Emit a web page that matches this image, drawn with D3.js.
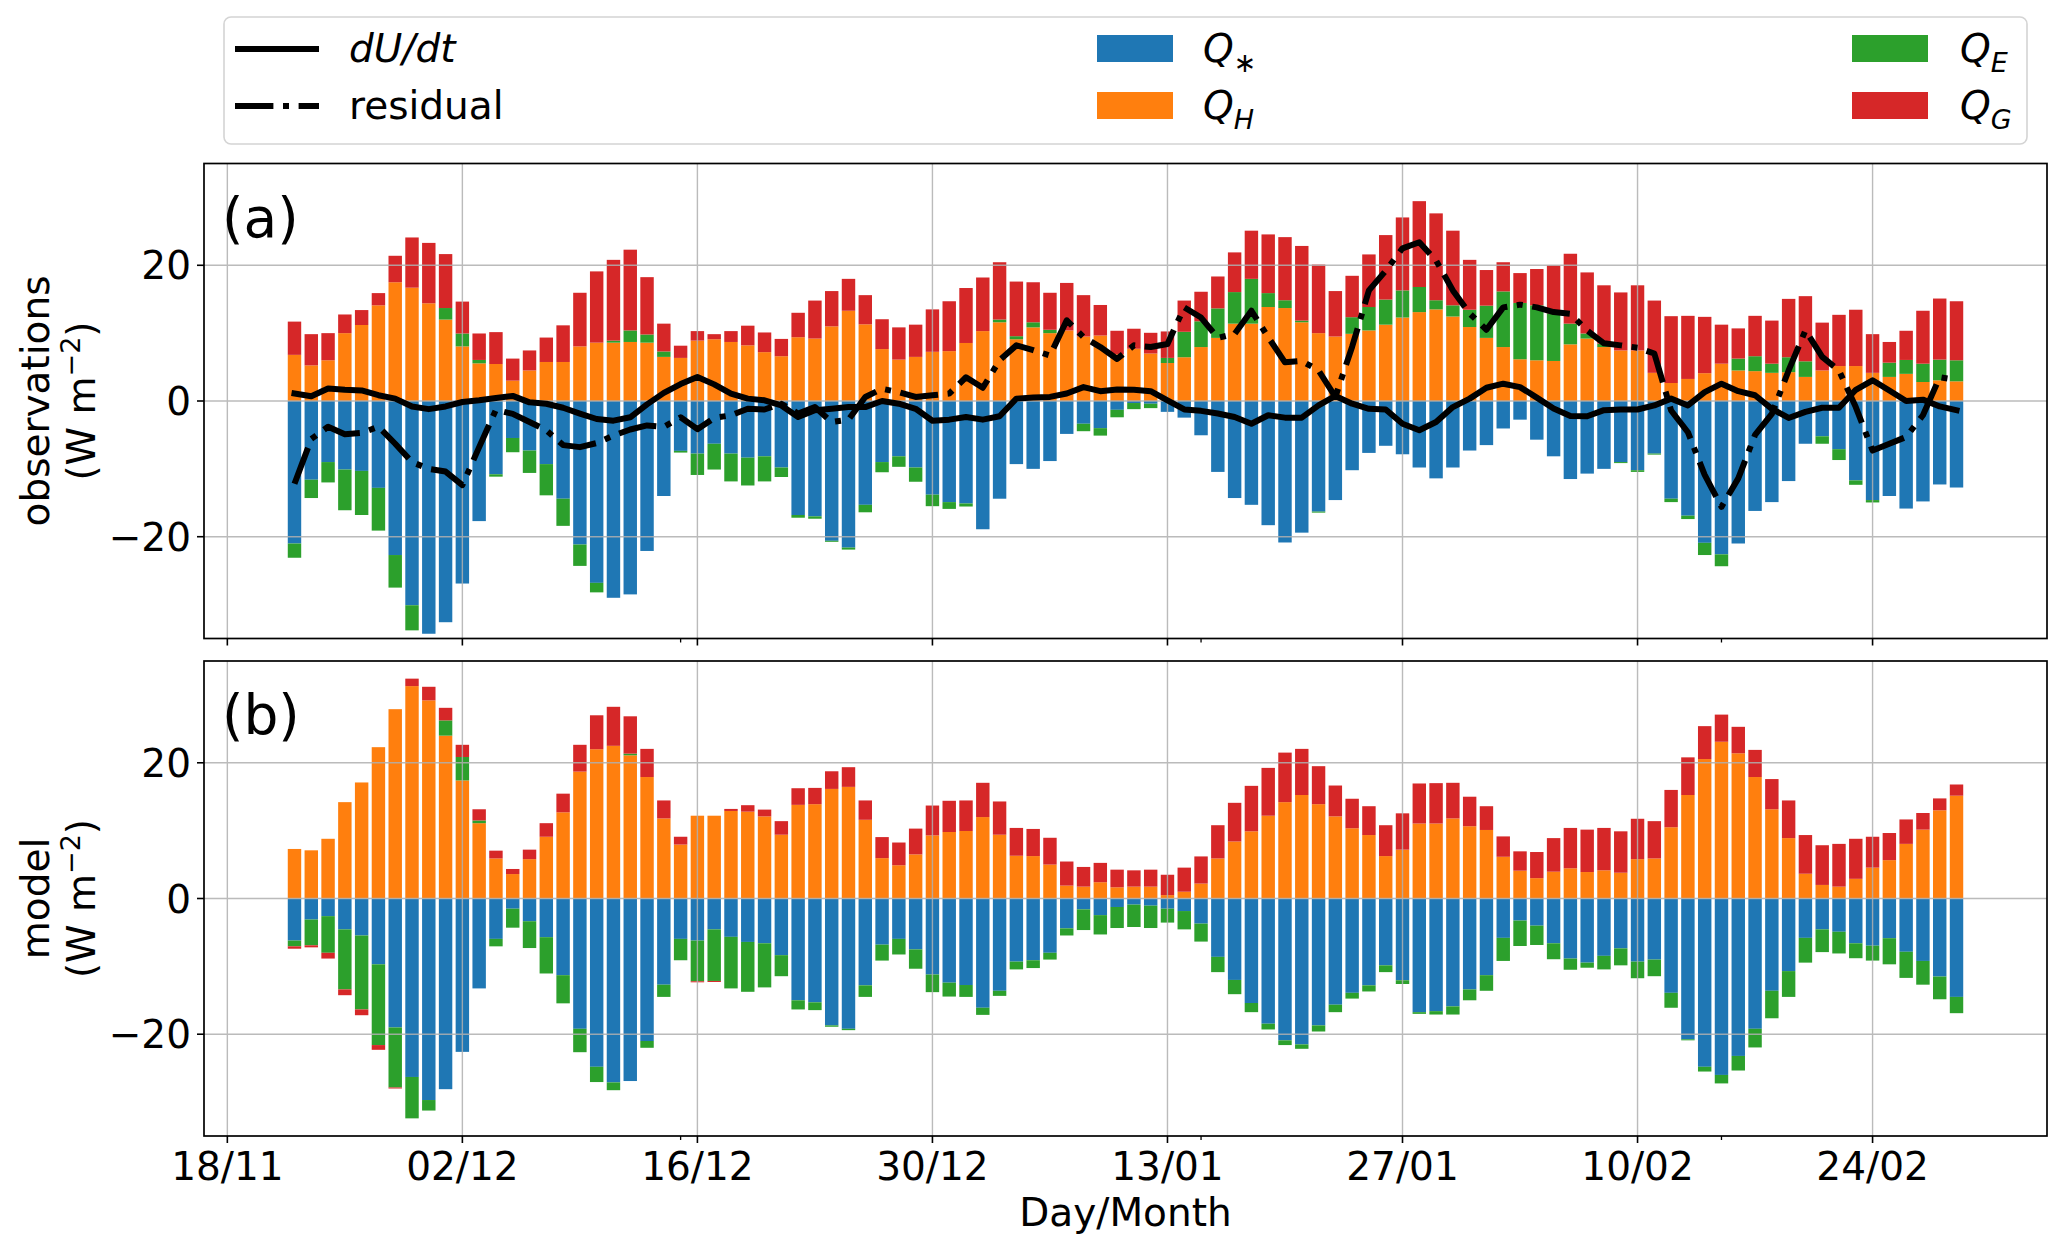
<!DOCTYPE html>
<html><head><meta charset="utf-8">
<script src="https://cdn.jsdelivr.net/npm/d3@7"></script>
<style>
body{margin:0;background:#fff}
svg{display:block}
text{font-family:"DejaVu Sans",sans-serif;fill:#000}
</style>
</head><body>
<svg id="chart" width="2067" height="1250"></svg>
<script>
// ---------------- data ----------------
const firstDay = "22/11", lastDay = "01/03";
const tickLabels = ["18/11","02/12","16/12","30/12","13/01","27/01","10/02","24/02"];
const minorTickLabels = ["15/12","15/01","15/02"];
const yTicks = [-20, 0, 20];
const seriesNames = ["Qstar","QH","QE","QG"];

// (a) observations
const obsQstar = [-21.0,-11.6,-9.0,-10.1,-10.3,-12.8,-22.7,-30.1,-34.3,-32.6,
 -26.9,-17.7,-10.8,-5.45,-7.3,-9.3,-14.4,-21.15,-26.8,-29.0,
 -28.5,-22.1,-14.0,-7.35,-7.75,-6.3,-7.75,-8.35,-8.15,-9.8,
 -16.8,-17.0,-20.6,-21.6,-15.3,-9.0,-8.15,-9.8,-13.8,-14.9,
 -15.1,-18.9,-14.4,-9.3,-10.0,-8.85,-4.85,-3.35,-4.0,-1.3,
 -0.3,-0.4,-1.6,-2.45,-5.05,-10.45,-14.3,-15.3,-18.3,-20.85,
 -19.4,-16.3,-14.6,-10.2,-7.65,-6.6,-7.85,-9.8,-11.4,-9.8,
 -7.3,-6.5,-4.05,-2.75,-5.7,-8.15,-11.5,-10.7,-10.0,-9.0,
 -10.2,-7.75,-14.4,-16.9,-20.9,-22.6,-21.0,-16.2,-14.9,-11.8,
 -6.3,-5.2,-7.1,-11.7,-14.6,-14.0,-15.85,-14.8,-12.3,-12.75];
const obsQH = [6.8,5.25,6.0,10.0,11.2,14.1,17.5,16.7,14.4,12.0,
 8.05,5.55,5.45,3.0,4.5,5.75,5.75,8.05,8.6,8.6,
 8.7,8.6,6.5,6.35,8.9,9.1,8.7,8.2,7.2,6.6,
 9.4,9.2,11.0,13.3,11.3,7.65,6.1,6.5,7.25,7.35,
 8.55,10.3,11.6,9.1,10.85,10.0,10.4,9.5,9.65,6.9,
 7.7,7.0,5.6,6.45,7.95,9.3,11.4,11.4,13.85,13.7,
 11.6,10.0,9.5,9.9,10.4,11.25,12.3,13.1,13.5,12.45,
 10.9,9.3,7.95,6.15,6.0,5.9,8.35,9.2,7.95,7.45,
 7.45,4.15,2.65,3.25,4.1,5.5,4.5,4.4,4.15,4.25,
 3.55,4.5,5.15,5.15,4.15,3.55,4.0,2.8,3.05,2.9];
const obsQE = [-2.1,-2.7,-3.0,-6.0,-6.5,-6.3,-4.8,-3.7,0,1.7,
 1.9,0.5,-0.35,-2.1,-3.3,-4.6,-4.0,-3.15,-1.4,0.3,
 1.7,1.2,0.8,-0.25,-3.15,-3.8,-4.1,-4.1,-3.7,-1.4,
 -0.4,-0.35,-0.15,-0.3,-1.1,-1.5,-1.55,-2.1,-1.7,-1.0,
 -0.45,0,0.4,0.45,0.75,0.5,0,-1.1,-1.1,-1.1,
 -0.9,-0.65,0.75,3.75,3.8,4.35,4.65,6.6,2.05,1.15,
 0.25,-0.15,0,2.45,3.45,3.7,4.0,3.7,1.35,1.65,
 2.55,4.75,8.2,8.3,8.1,7.0,3.05,0.75,0.5,-0.15,
 -0.25,-0.15,-0.5,-0.5,-1.8,-1.75,1.75,2.2,1.35,2.2,
 2.3,-1.1,-1.6,-0.65,-0.35,2.1,2.05,2.7,3.05,3.1];
const obsQG = [4.9,4.6,4.0,2.75,2.2,1.8,3.9,7.4,8.9,7.95,
 4.7,3.9,4.7,3.25,2.95,3.6,5.4,7.9,10.5,11.9,
 11.9,8.45,4.1,1.8,1.4,0.75,1.6,2.9,2.9,2.55,
 3.6,5.6,5.2,4.7,4.3,4.4,4.75,4.75,6.25,7.35,
 8.1,7.9,8.45,8.05,5.9,5.45,7.0,6.1,4.5,3.45,
 2.95,3.05,3.9,4.6,4.35,4.7,5.85,7.1,8.65,9.3,
 11.0,10.1,6.7,6.1,7.75,9.5,10.75,12.65,12.8,11.0,
 7.35,5.25,4.3,4.4,5.35,7.1,10.3,9.0,8.6,8.55,
 9.6,10.65,9.85,9.3,8.3,5.75,4.45,5.95,6.35,8.6,
 9.6,7.05,7.55,8.3,5.7,3.05,4.3,7.8,9.0,8.7];
const obsDUdt = [1.1,0.7,1.85,1.65,1.55,0.85,0.35,-0.8,-1.2,-0.8,
 -0.15,0.1,0.45,0.75,-0.2,-0.4,-1.0,-1.85,-2.65,-2.9,
 -2.4,-0.5,1.2,2.5,3.55,2.45,1.1,0.35,0.1,-0.65,
 -2.35,-1.35,-1.15,-0.9,-0.9,0,-0.4,-1.15,-2.9,-2.75,
 -2.35,-2.75,-2.25,0.35,0.5,0.6,1.1,2.05,1.45,1.7,
 1.65,1.45,0.1,-1.25,-1.45,-1.85,-2.35,-3.35,-2.1,-2.45,
 -2.45,-0.65,0.75,-0.4,-1.15,-1.25,-3.35,-4.3,-3.1,-0.9,
 0.35,1.95,2.55,2.05,0.5,-1.1,-2.2,-2.25,-1.35,-1.25,
 -1.25,-0.65,0.35,-0.65,1.3,2.55,1.45,0.85,-1.15,-2.5,
 -1.6,-1.0,-1.0,1.65,3.05,1.55,0,0.2,-0.8,-1.35];
const obsResidual = [-12.2,-5.6,-3.8,-4.9,-4.7,-3.8,-6.3,-9.0,-10.0,-10.4,
 -12.4,-6.8,-1.3,-1.9,-3.1,-4.3,-6.5,-6.8,-6.2,-5.1,
 -4.2,-3.6,-3.8,-2.4,-4.15,-2.5,-2.1,-1.15,-1.25,-0.4,
 -1.85,-0.9,-3.1,-2.75,0.6,1.8,1.3,0.6,0.85,1.1,
 3.5,1.95,6.0,8.2,7.5,6.7,11.9,9.4,7.95,6.2,
 8.2,7.95,8.4,13.8,12.3,9.3,9.9,13.3,9.4,5.7,
 5.9,4.5,0.6,8.0,16.3,19.2,22.5,23.4,20.7,16.3,
 12.9,10.5,13.8,14.2,13.8,13.1,12.85,10.4,8.5,8.2,
 7.85,7.0,-1.4,-4.6,-10.9,-15.6,-11.4,-5.0,-1.9,4.5,
 10.4,6.5,4.5,-0.9,-7.3,-6.3,-5.3,-2.1,3.5,3.1];

// (b) model
const modQstar = [-6.2,-3.1,-2.6,-4.55,-5.45,-9.7,-19.0,-26.3,-29.7,-28.1,
 -22.6,-13.25,-5.95,-1.5,-3.35,-5.7,-11.3,-19.2,-24.8,-27.1,
 -26.9,-21.0,-12.7,-5.95,-6.2,-4.55,-5.65,-6.4,-6.6,-8.35,
 -15.0,-15.3,-18.7,-19.2,-12.8,-6.8,-5.95,-7.5,-11.2,-12.4,
 -12.75,-16.1,-13.6,-9.3,-9.1,-8.0,-4.4,-1.6,-2.45,-1.25,
 -0.9,-1.05,-1.5,-1.85,-3.7,-8.6,-12.0,-15.4,-18.45,-20.9,
 -21.5,-18.7,-15.65,-13.9,-12.8,-9.85,-12.05,-16.75,-16.6,-15.9,
 -13.4,-11.3,-5.8,-3.25,-4.0,-6.6,-8.85,-9.45,-8.45,-7.35,
 -9.3,-9.0,-13.9,-20.75,-24.8,-26.0,-23.2,-19.2,-13.6,-10.7,
 -5.8,-4.55,-4.9,-6.6,-6.95,-5.85,-7.85,-9.2,-11.5,-14.5];
const modQH = [7.3,7.1,8.8,14.2,17.1,22.3,27.9,31.3,29.2,24.0,
 17.4,11.1,5.9,3.6,5.8,9.1,12.7,18.7,22.0,22.5,
 21.1,17.9,11.8,7.95,12.2,12.2,12.9,12.8,12.1,9.4,
 13.8,13.9,16.15,16.45,11.6,5.95,4.9,6.5,9.3,9.8,
 9.95,12.0,9.4,6.3,6.25,5.0,1.9,1.75,2.4,1.65,
 1.75,1.75,0.5,1.0,2.2,5.9,8.4,9.9,12.2,14.2,
 15.25,13.9,12.1,10.35,9.35,6.25,7.2,11.05,11.05,11.8,
 10.65,10.1,6.15,4.1,3.0,3.95,4.45,3.9,4.15,3.8,
 5.8,5.9,10.5,15.25,20.55,23.1,21.4,17.9,13.15,8.9,
 3.65,2.0,1.75,2.9,4.55,5.65,8.05,10.15,13.0,15.15];
const modQE = [-0.85,-3.8,-5.4,-8.85,-10.9,-11.9,-8.85,-6.1,-1.55,2.25,
 3.45,0.4,-1.1,-2.8,-3.95,-5.35,-4.15,-3.45,-2.25,-1.15,
 0.25,-1.0,-1.8,-3.15,-6.0,-7.6,-7.6,-7.35,-6.5,-3.1,
 -1.35,-1.15,-0.2,-0.2,-1.7,-2.35,-2.3,-2.85,-2.6,-2.05,
 -1.75,-1.05,-0.75,-1.15,-1.15,-1.0,-1.05,-3.05,-2.85,-3.1,
 -3.3,-3.3,-2.05,-2.7,-2.65,-2.25,-2.1,-1.35,-0.85,-0.7,
 -0.65,-0.9,-1.1,-0.85,-0.9,-1.0,-0.55,-0.25,-0.5,-1.2,
 -1.6,-2.3,-3.4,-3.75,-2.85,-2.35,-1.65,-0.75,-2.0,-2.5,
 -2.45,-2.45,-2.2,-0.15,-0.7,-1.25,-2.15,-2.75,-4.05,-3.8,
 -3.65,-3.35,-3.2,-2.2,-2.2,-3.85,-3.85,-3.5,-3.35,-2.4];
const modQG = [-0.35,-0.3,-0.85,-0.85,-0.85,-0.7,-0.15,1.1,2.0,1.85,
 1.8,1.65,1.15,0.75,1.4,2.0,2.75,3.95,5.0,5.75,
 5.5,4.15,2.65,1.15,-0.15,-0.15,0.3,0.95,1.0,2.0,
 2.45,2.4,2.6,2.9,2.85,3.1,3.35,3.8,4.4,4.6,
 4.5,5.05,4.9,4.1,4.0,3.95,3.55,2.9,2.85,2.6,
 2.4,2.5,3.0,3.55,4.0,4.9,5.7,6.7,7.05,7.3,
 6.8,5.6,4.55,4.35,4.25,4.55,5.35,5.9,5.95,5.25,
 4.35,3.5,3.0,2.85,3.85,4.95,5.95,6.25,6.25,6.1,
 5.95,5.5,5.5,5.55,4.85,4.0,3.9,4.0,4.45,5.55,
 5.7,5.85,6.3,5.9,4.55,4.0,3.6,2.45,1.75,1.65];

// ---------------- setup ----------------
const colors = {Qstar:"#1f77b4", QH:"#ff7f0e", QE:"#2ca02c", QG:"#d62728"};
const DAY = 864e5;
const FS = 39;          // general font size
const FS_SUB = 27;      // sub/superscript size
const LW = 6;           // line width
const DASH = "38.4,9.6,6,9.6";
function parseDM(s){ const [d,m] = s.split("/").map(Number); return new Date(Date.UTC(m >= 11 ? 2010 : 2011, m-1, d)); }
const days = d3.utcDay.range(parseDM(firstDay), new Date(+parseDM(lastDay) + DAY));

const svg = d3.select("#chart");
const L = 204, R = 2047;
const barHalf = 0.4 * DAY;
const span = (+days[days.length-1] - +days[0]) + 2*barHalf;
const x = d3.scaleUtc()
  .domain([new Date(+days[0] - barHalf - 0.05*span), new Date(+days[days.length-1] + barHalf + 0.05*span)])
  .range([L, R]);
const majorDates = tickLabels.map(parseDM);
const minorDates = minorTickLabels.map(parseDM);
const fmt = d3.utcFormat("%d/%m");

const panels = [
  {top:163.5, bottom:638.5, label:"(a)", ylab:"observations",
   data:{Qstar:obsQstar, QH:obsQH, QE:obsQE, QG:obsQG}, lines:true},
  {top:661, bottom:1136, label:"(b)", ylab:"model",
   data:{Qstar:modQstar, QH:modQH, QE:modQE, QG:modQG}, lines:false}
];

panels.forEach((p, pi) => {
  const y = d3.scaleLinear().domain([-35, 35]).range([p.bottom, p.top]);
  const g = svg.append("g");
  const clipId = "clip" + pi;
  svg.append("clipPath").attr("id", clipId).append("rect")
    .attr("x", L).attr("y", p.top).attr("width", R-L).attr("height", p.bottom-p.top);

  const table = days.map((d, i) => {
    const o = {date: d};
    seriesNames.forEach(k => o[k] = p.data[k][i]);
    return o;
  });
  const stack = d3.stack().keys(seriesNames).offset(d3.stackOffsetDiverging)(table);

  const bars = g.append("g").attr("clip-path", `url(#${clipId})`);
  stack.forEach(s => {
    bars.append("g").attr("fill", colors[s.key])
      .selectAll("rect").data(s.filter(d => d[0] !== d[1])).join("rect")
      .attr("x", d => x(new Date(+d.data.date - barHalf)))
      .attr("width", d => x(new Date(+d.data.date + barHalf)) - x(new Date(+d.data.date - barHalf)))
      .attr("y", d => y(Math.max(d[0], d[1])))
      .attr("height", d => Math.abs(y(d[0]) - y(d[1])));
  });

  // grid (above bars, below lines)
  const grid = g.append("g").attr("stroke", "#b0b0b0").attr("stroke-width", 1.4).attr("opacity", 0.85);
  grid.selectAll("line.gx").data(majorDates).join("line")
    .attr("x1", d => x(d)).attr("x2", d => x(d)).attr("y1", p.top).attr("y2", p.bottom);
  grid.selectAll("line.gy").data(yTicks).join("line")
    .attr("x1", L).attr("x2", R).attr("y1", d => y(d)).attr("y2", d => y(d));

  if (p.lines) {
    const line = d3.line().x((v, i) => x(days[i])).y(v => y(v));
    const lg = g.append("g").attr("clip-path", `url(#${clipId})`).attr("fill", "none").attr("stroke", "#000").attr("stroke-width", LW);
    lg.append("path").attr("d", line(obsDUdt)).attr("stroke-linejoin", "round").attr("stroke-linecap", "square");
    lg.append("path").attr("d", line(obsResidual)).attr("stroke-linejoin", "round")
      .attr("stroke-dasharray", DASH);
  }

  // frame
  g.append("rect").attr("x", L).attr("y", p.top).attr("width", R-L).attr("height", p.bottom-p.top)
    .attr("fill", "none").attr("stroke", "#000").attr("stroke-width", 1.7);

  // y ticks
  const yt = g.append("g");
  yTicks.forEach(t => {
    yt.append("line").attr("x1", L-7).attr("x2", L).attr("y1", y(t)).attr("y2", y(t))
      .attr("stroke", "#000").attr("stroke-width", 1.6);
    yt.append("text").attr("x", L-13).attr("y", y(t)).attr("dy", "0.36em")
      .attr("text-anchor", "end").attr("font-size", FS).text(t < 0 ? "\u2212" + Math.abs(t) : String(t));
  });

  // x ticks
  majorDates.forEach(d => {
    g.append("line").attr("x1", x(d)).attr("x2", x(d)).attr("y1", p.bottom).attr("y2", p.bottom+7)
      .attr("stroke", "#000").attr("stroke-width", 1.6);
    if (pi === 1) {
      g.append("text").attr("x", x(d)).attr("y", 1180).attr("text-anchor", "middle")
        .attr("font-size", FS).text(fmt(d));
    }
  });
  minorDates.forEach(d => {
    g.append("line").attr("x1", x(d)).attr("x2", x(d)).attr("y1", p.bottom).attr("y2", p.bottom+4)
      .attr("stroke", "#000").attr("stroke-width", 1.3);
  });

  // panel label
  g.append("text").attr("x", 222).attr("y", p.top + 73).attr("font-size", 55).text(p.label);

  // y axis label (two lines)
  const cy = (p.top + p.bottom) / 2;
  g.append("text").attr("transform", `translate(49,${cy}) rotate(-90)`)
    .attr("text-anchor", "middle").attr("font-size", FS).text(p.ylab);
  const u = g.append("text").attr("transform", `translate(95,${cy}) rotate(-90)`)
    .attr("text-anchor", "middle").attr("font-size", FS);
  u.append("tspan").text("(W m");
  u.append("tspan").attr("font-size", FS_SUB).attr("dy", -15).text("\u22122");
  u.append("tspan").attr("dy", 15).text(")");
});

// x axis title
svg.append("text").attr("x", (L+R)/2).attr("y", 1226).attr("text-anchor", "middle")
  .attr("font-size", FS).text("Day/Month");

// ---------------- legend ----------------
const lg = svg.append("g");
lg.append("rect").attr("x", 224).attr("y", 17).attr("width", 1803).attr("height", 127)
  .attr("rx", 7).attr("fill", "#fff").attr("stroke", "#d4d4d4").attr("stroke-width", 1.6);
const row1 = 62, row2 = 119;
lg.append("line").attr("x1", 235).attr("x2", 319).attr("y1", row1-13).attr("y2", row1-13)
  .attr("stroke", "#000").attr("stroke-width", LW);
lg.append("text").attr("x", 349).attr("y", row1).attr("font-size", FS).attr("font-style", "italic").text("dU/dt");
lg.append("line").attr("x1", 235).attr("x2", 319).attr("y1", row2-13).attr("y2", row2-13)
  .attr("stroke", "#000").attr("stroke-width", LW).attr("stroke-dasharray", DASH);
lg.append("text").attr("x", 349).attr("y", row2).attr("font-size", FS).text("residual");

function qLabel(xp, yp, sub, subItalic){
  const t = lg.append("text").attr("x", xp).attr("y", yp).attr("font-size", FS);
  t.append("tspan").attr("font-style", "italic").text("Q");
  t.append("tspan").attr("font-size", FS_SUB).attr("dy", 10).attr("font-style", subItalic ? "italic" : "normal").text(sub);
}
const legendItems = [
  {key:"Qstar", sub:"\u2217", it:false, px:1097, tx:1203, row:row1},
  {key:"QH", sub:"H", it:true, px:1097, tx:1203, row:row2},
  {key:"QE", sub:"E", it:true, px:1852, tx:1960, row:row1},
  {key:"QG", sub:"G", it:true, px:1852, tx:1960, row:row2}
];
legendItems.forEach(it => {
  lg.append("rect").attr("x", it.px).attr("y", it.row-27).attr("width", 76).attr("height", 27)
    .attr("fill", colors[it.key]);
  qLabel(it.tx, it.row, it.sub, it.it);
});
</script>
</body></html>
